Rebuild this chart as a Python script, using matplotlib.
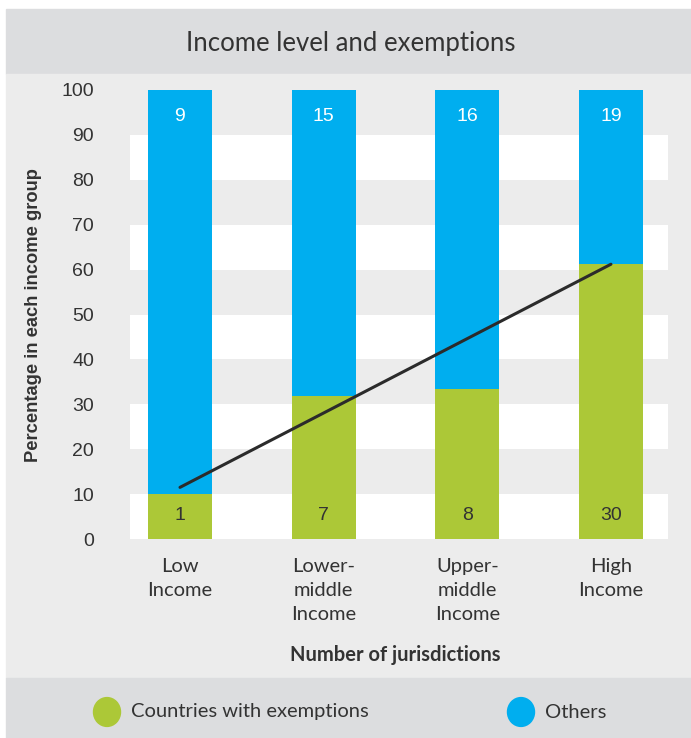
import matplotlib.pyplot as plt
from matplotlib.patches import Rectangle, Circle
import numpy as np

# Data
groups = ['Low\nIncome', 'Lower-\nmiddle\nIncome', 'Upper-\nmiddle\nIncome', 'High\nIncome']
with_exemptions = [1, 7, 8, 30]
others = [9, 15, 16, 19]
trend = [11.5, 61.2]  # start / end of the trend line (percent)

green = '#acc837'
blue = '#00aeef'
dark = '#333333'

counts_e = np.array(with_exemptions, dtype=float)
counts_o = np.array(others, dtype=float)
pct_e = 100 * counts_e / (counts_e + counts_o)
pct_o = 100 - pct_e

W, H = 691, 738
fig = plt.figure(figsize=(W / 100, H / 100), dpi=100)
fig.patch.set_facecolor('white')

# background panels (title band, body, legend band)
def band(y0, y1, color):
    fig.patches.append(Rectangle((6 / W, 1 - y1 / H), 1 - 6 / W, (y1 - y0) / H,
                                 transform=fig.transFigure, color=color, zorder=-10))

band(9, 74, '#dcdddf')
band(74, 678, '#ececec')
band(678, 738, '#dcdddf')

fig.text(351 / W, 1 - 43 / H, 'Income level and exemptions', ha='center', va='center',
         fontsize=18.5, color=dark, family='Lato')

ax = fig.add_axes([130 / W, 1 - 539 / H, 538 / W, 449 / H])
ax.set_facecolor('#ececec')
for lo in range(0, 90, 20):
    ax.axhspan(lo, lo + 10, color='white', zorder=0, lw=0)

x = np.arange(len(groups))
bw = 0.445
ax.bar(x, pct_e, bw, color=green, zorder=2)
ax.bar(x, pct_o, bw, bottom=pct_e, color=blue, zorder=2)

for i in range(len(groups)):
    ax.text(x[i], 94, str(others[i]), ha='center', va='center', color='white',
            fontsize=14, family='Liberation Sans', zorder=4)
    ax.text(x[i], 5.3, str(with_exemptions[i]), ha='center', va='center', color=dark,
            fontsize=14, family='Liberation Sans', zorder=4)

ax.plot([x[0], x[-1]], trend, color='#2b2b2b', lw=2.2, zorder=3, solid_capstyle='round')

ax.set_xlim(-0.348, 3.397)
ax.set_ylim(0, 100)
ax.set_yticks(range(0, 101, 10))
ax.set_xticks(x)
ax.set_xticklabels(groups, fontsize=14.5, color=dark, family='Lato', linespacing=1.48)
ax.tick_params(axis='both', length=0)
ax.tick_params(axis='y', pad=26, labelsize=14, labelcolor=dark)
ax.tick_params(axis='x', pad=14)
for lab in ax.get_yticklabels():
    lab.set_family('Liberation Sans')
for s in ax.spines.values():
    s.set_visible(False)

fig.text(34 / W, 1 - 315 / H, 'Percentage in each income group', rotation=90,
         ha='center', va='center', fontsize=13.2, fontweight='bold', color=dark,
         family='Liberation Sans')
fig.text(395 / W, 1 - 655 / H, 'Number of jurisdictions', ha='center', va='center',
         fontsize=14.5, fontweight='bold', color=dark, family='Lato')

# legend
for cx, color, label in [(107, green, 'Countries with exemptions'), (521, blue, 'Others')]:
    fig.patches.append(Circle((cx / W, 1 - 712 / H), 13.5 / W, transform=fig.transFigure,
                              color=color, zorder=5))
    fig.text((cx + 24) / W, 1 - 712 / H, label, ha='left', va='center', fontsize=14.5,
             color=dark, family='Lato')

fig.savefig('out.png', dpi=100)
